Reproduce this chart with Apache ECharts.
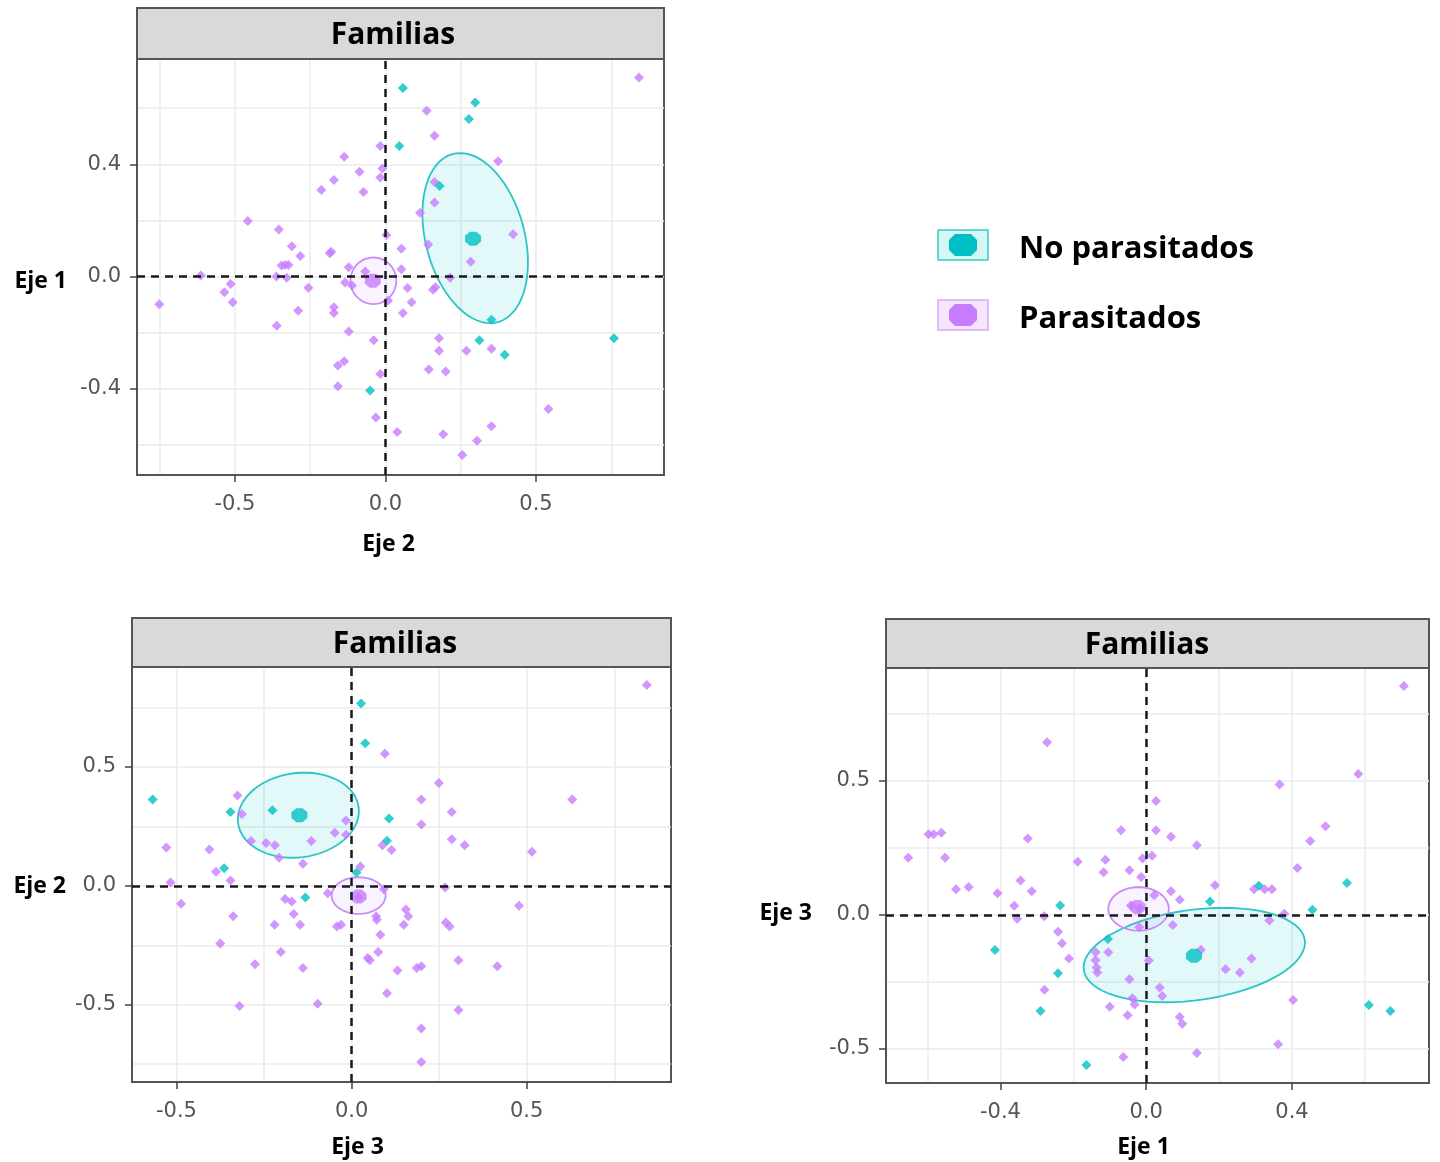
<!DOCTYPE html>
<html>
<head>
<meta charset="utf-8">
<script src="https://cdn.jsdelivr.net/npm/echarts@6/dist/echarts.min.js"></script>
<style>
  html, body { margin: 0; padding: 0; background: #fff; }
  #main { width: 1440px; height: 1162px; }
</style>
</head>
<body>
<div id="main"></div>
<script>
// colores de grupo
var tealColor = '#00BFC4';
var purpleColor = '#C77CFF';

// panel 1: Eje 2 (x) vs Eje 1 (y)
var p1NoPar = [[0.058,0.672],[0.298,0.620],[0.277,0.561],[0.046,0.465],[0.180,0.323],[0.352,-0.154],
  [0.312,-0.227],[0.396,-0.279],[0.759,-0.220],[-0.051,-0.406]];
var p1Par = [[0.842,0.709],[0.137,0.591],[0.163,0.502],[-0.017,0.465],[-0.137,0.427],[-0.010,0.385],
  [-0.086,0.373],[-0.017,0.353],[-0.171,0.344],[-0.213,0.308],[-0.073,0.301],[0.374,0.411],
  [0.163,0.337],[0.163,0.264],[0.115,0.227],[0.424,0.151],[0.142,0.114],[0.283,0.053],
  [-0.457,0.198],[-0.354,0.168],[-0.311,0.108],[-0.283,0.073],[-0.185,0.083],[-0.180,0.088],[0.003,0.148],
  [0.053,0.099],[-0.333,0.041],[-0.322,0.041],[-0.345,0.039],[-0.122,0.033],[-0.067,0.018],
  [0.053,0.026],[-0.613,0.004],[-0.362,0.0],[-0.328,-0.004],[0.215,-0.004],[-0.514,-0.027],
  [-0.535,-0.056],[-0.507,-0.092],[-0.751,-0.099],[-0.256,-0.040],[-0.134,-0.021],[-0.111,-0.032],
  [0.073,-0.041],[0.158,-0.047],[0.166,-0.038],[0.009,-0.085],[0.087,-0.092],[0.058,-0.130],
  [-0.290,-0.122],[-0.171,-0.109],[-0.171,-0.130],[-0.361,-0.175],[-0.122,-0.196],[-0.039,-0.227],
  [0.178,-0.220],[0.178,-0.264],[0.269,-0.264],[0.352,-0.257],[-0.158,-0.317],[-0.137,-0.302],
  [-0.017,-0.347],[0.144,-0.331],[0.200,-0.338],[-0.158,-0.391],[-0.032,-0.502],[0.039,-0.554],
  [0.192,-0.562],[0.541,-0.472],[0.352,-0.533],[0.304,-0.585],[0.255,-0.636]];
var p1Centros = [[0.291,0.135],[-0.042,-0.015]];
// elipses: centro x, centro y, vector A (x,y), vector B (x,y)
var p1ElipseNoPar = [0.298,0.137,-0.050,0.303,0.168,0];
var p1ElipsePar = [-0.040,-0.015,0,0.083,0.076,0];

// panel 2: Eje 3 (x) vs Eje 2 (y)
var p2NoPar = [[0.027,0.766],[0.039,0.599],[-0.568,0.363],[-0.346,0.310],[-0.226,0.318],[0.107,0.283],
  [0.101,0.189],[-0.364,0.074],[0.014,0.056],[-0.132,-0.049]];
var p2Par = [[0.843,0.844],[0.095,0.555],[0.249,0.432],[0.199,0.363],[0.630,0.363],[-0.326,0.380],
  [-0.313,0.302],[0.286,0.310],[-0.016,0.275],[0.199,0.258],[-0.048,0.223],[-0.016,0.215],
  [-0.115,0.188],[-0.287,0.188],[-0.244,0.180],[-0.219,0.171],[0.286,0.196],[0.323,0.171],
  [0.088,0.170],[0.114,0.151],[-0.529,0.161],[-0.406,0.153],[0.515,0.143],[-0.207,0.118],
  [-0.139,0.093],[0.025,0.081],[-0.387,0.059],[-0.346,0.022],[-0.517,0.014],
  [0.267,-0.007],[0.092,-0.014],[-0.068,-0.031],[0.020,-0.048],[-0.487,-0.076],[-0.190,-0.056],
  [-0.171,-0.066],[0.478,-0.084],[0.155,-0.100],[0.162,-0.128],[0.070,-0.128],[0.072,-0.143],
  [-0.338,-0.128],[-0.165,-0.119],[-0.220,-0.164],[-0.147,-0.164],[-0.042,-0.171],[-0.030,-0.164],
  [0.149,-0.164],[0.269,-0.154],[0.280,-0.171],[0.082,-0.206],[-0.375,-0.243],[-0.202,-0.278],
  [0.076,-0.278],[0.046,-0.304],[0.052,-0.313],[-0.276,-0.330],[-0.139,-0.346],[0.131,-0.356],
  [0.186,-0.346],[0.199,-0.338],[0.305,-0.313],[0.416,-0.338],[0.101,-0.452],[-0.320,-0.505],
  [-0.097,-0.496],[0.305,-0.522],[0.199,-0.600],[0.199,-0.741]];
var p2Centros = [[-0.149,0.297],[0.020,-0.045]];
var p2ElipseNoPar = [-0.152,0.297,0.017,0.179,0.172,0];
var p2ElipsePar = [0.020,-0.041,0,0.077,0.077,0];

// panel 3: Eje 1 (x) vs Eje 3 (y)
var p3NoPar = [[-0.236,0.035],[0.175,0.050],[0.456,0.019],[0.551,0.119],[-0.415,-0.131],[-0.242,-0.218],
  [-0.290,-0.359],[-0.164,-0.560],[0.611,-0.336],[0.670,-0.359],[-0.105,-0.090],[0.309,0.108]];
var p3Par = [[0.707,0.853],[-0.272,0.643],[0.582,0.525],[0.366,0.486],[0.027,0.424],[0.492,0.330],
  [0.450,0.275],[-0.069,0.315],[0.027,0.315],[0.068,0.291],[0.139,0.259],[-0.597,0.300],
  [-0.583,0.300],[-0.562,0.306],[-0.325,0.284],[-0.653,0.213],[-0.552,0.213],[-0.188,0.198],
  [-0.112,0.205],[-0.010,0.210],[0.016,0.220],[-0.117,0.159],[-0.046,0.166],[-0.014,0.141],
  [0.415,0.174],[-0.345,0.128],[-0.314,0.088],[-0.522,0.095],[-0.487,0.104],[-0.408,0.080],
  [0.189,0.110],[0.296,0.095],[0.325,0.095],[0.345,0.095],[0.068,0.088],[0.022,0.073],
  [0.092,0.056],[-0.362,0.034],[-0.042,0.035],[-0.019,0.025],[-0.354,-0.015],[-0.280,-0.005],
  [0.379,0.004],[0.338,-0.021],[0.073,-0.038],[-0.019,-0.046],[-0.242,-0.063],[-0.231,-0.106],
  [-0.212,-0.163],[-0.104,-0.140],[-0.139,-0.140],[-0.139,-0.169],[-0.136,-0.196],[-0.134,-0.215],
  [0.007,-0.170],[0.150,-0.130],[0.289,-0.163],[0.218,-0.203],[0.257,-0.215],[-0.046,-0.240],
  [0.037,-0.271],[0.044,-0.303],[-0.038,-0.311],[-0.032,-0.334],[-0.279,-0.279],[-0.100,-0.343],
  [-0.051,-0.374],[0.403,-0.318],[0.092,-0.381],[0.099,-0.406],[0.362,-0.483],[0.139,-0.515],
  [-0.063,-0.530]];
var p3Centros = [[0.131,-0.153],[-0.024,0.029]];
var p3ElipseNoPar = [0.132,-0.150,0.080,0.176,0.293,0];
var p3ElipsePar = [-0.021,0.022,0,0.081,0.083,0];

// ejes
var p1XTicks = [-0.5, 0, 0.5], p1YTicks = [-0.4, 0, 0.4];
var p2XTicks = [-0.5, 0, 0.5], p2YTicks = [-0.5, 0, 0.5];
var p3XTicks = [-0.4, 0, 0.4], p3YTicks = [-0.5, 0, 0.5];
var nombresEjes = [['Eje 2', 'Eje 1'], ['Eje 3', 'Eje 2'], ['Eje 1', 'Eje 3']];
var titulo = 'Familias';
var leyenda = ['No parasitados', 'Parasitados'];

var grids = [
  { left: 137, top: 59, width: 527, height: 416 },
  { left: 132, top: 667, width: 539, height: 415 },
  { left: 886, top: 668, width: 543, height: 415 }
];
var tiras = [
  { x: 137, y: 8, w: 527, h: 51, tx: 393 },
  { x: 132, y: 618, w: 539, h: 49, tx: 395 },
  { x: 886, y: 619, w: 543, h: 49, tx: 1147 }
];
// posicion de los nombres de eje vertical (borde derecho, centro y)
var nombresY = [[67, 281], [66, 886], [812, 913]];

var myChart = echarts.init(document.getElementById('main'));

var gridLine = { color: '#ebebeb', width: 1.5 };

function makeAxis(gi, isX, min, max, ticks, name, gap, shift) {
  var step = ticks[1] - ticks[0];
  return {
    type: 'value', gridIndex: gi, min: min, max: max,
    minInterval: step, maxInterval: step,
    name: name, nameLocation: 'middle', nameGap: gap,
    nameTextStyle: { fontFamily: 'Open Sans', fontWeight: 'bold', fontSize: 23, color: '#000',
                     padding: [0, 2 * shift, 0, 0] },
    axisLine: { show: true, onZero: false, lineStyle: { color: '#555', width: 2 } },
    axisTick: { show: true, length: 7, customValues: ticks, lineStyle: { color: '#444', width: 1.5 } },
    axisLabel: {
      customValues: ticks, margin: isX ? 19 : 16,
      fontFamily: 'DejaVu Sans', fontSize: 21, color: '#555',
      formatter: function (v) { return v.toFixed(1); }
    },
    splitLine: { show: true, lineStyle: gridLine },
    minorTick: { show: false, splitNumber: 2 },
    minorSplitLine: { show: true, lineStyle: gridLine }
  };
}

var xAxes = [
  makeAxis(0, true, -0.825, 0.925, p1XTicks, nombresEjes[0][0], 58, 12),
  makeAxis(1, true, -0.627, 0.912, p2XTicks, nombresEjes[1][0], 54, 44),
  makeAxis(2, true, -0.714, 0.776, p3XTicks, nombresEjes[2][0], 53, 14)
];
var yAxes = [
  makeAxis(0, false, -0.707, 0.775, p1YTicks, '', 0, 0),
  makeAxis(1, false, -0.825, 0.920, p2YTicks, '', 0, 0),
  makeAxis(2, false, -0.627, 0.920, p3YTicks, '', 0, 0)
];

function elipseSerie(gi, params, color, fill) {
  return {
    type: 'custom', xAxisIndex: gi, yAxisIndex: gi, silent: true, z: 1,
    data: [params],
    renderItem: function (p, api) {
      var e = params, pts = [];
      for (var i = 0; i < 72; i++) {
        var t = i / 72 * Math.PI * 2;
        pts.push(api.coord([e[0] + e[2] * Math.cos(t) + e[4] * Math.sin(t),
                            e[1] + e[3] * Math.cos(t) + e[5] * Math.sin(t)]));
      }
      return { type: 'polygon', shape: { points: pts },
               style: { fill: fill, stroke: color, lineWidth: 1.8 } };
    }
  };
}

function puntos(gi, name, data, color) {
  return { type: 'scatter', name: name, xAxisIndex: gi, yAxisIndex: gi, z: 3,
           symbol: 'diamond', symbolSize: 10, itemStyle: { color: color }, data: data };
}

var octagono = 'path://M3,0 L7,0 L10,3 L10,7 L7,10 L3,10 L0,7 L0,3 Z';
function centros(gi, data) {
  return { type: 'scatter', xAxisIndex: gi, yAxisIndex: gi, z: 4, silent: true,
           symbol: octagono, symbolSize: [16, 14],
           itemStyle: { color: function (p) { return p.dataIndex === 0 ? tealColor : purpleColor; } },
           data: data };
}

function ceros(gi) {
  return { type: 'scatter', xAxisIndex: gi, yAxisIndex: gi, data: [], z: 5,
    markLine: { silent: true, symbol: 'none', label: { show: false },
      lineStyle: { type: [8, 6], color: '#1a1a1a', width: 2.5 },
      data: [{ xAxis: 0 }, { yAxis: 0 }] } };
}

var series = [];
[[p1NoPar, p1Par, p1Centros, p1ElipseNoPar, p1ElipsePar],
 [p2NoPar, p2Par, p2Centros, p2ElipseNoPar, p2ElipsePar],
 [p3NoPar, p3Par, p3Centros, p3ElipseNoPar, p3ElipsePar]].forEach(function (d, gi) {
  series.push(elipseSerie(gi, d[3], '#2cc4c6', 'rgba(0,191,196,0.11)'));
  series.push(elipseSerie(gi, d[4], '#c98cf5', 'rgba(199,124,255,0.10)'));
  series.push(puntos(gi, leyenda[1], d[1], purpleColor));
  series.push(puntos(gi, leyenda[0], d[0], tealColor));
  series.push(centros(gi, d[2]));
  series.push(ceros(gi));
});

// tiras de titulo, nombres de eje vertical y leyenda
var graphics = [];
tiras.forEach(function (t) {
  graphics.push({ type: 'rect', shape: { x: t.x, y: t.y, width: t.w, height: t.h },
    style: { fill: '#d9d9d9', stroke: '#555', lineWidth: 2 }, z: 10 });
  graphics.push({ type: 'text', x: t.tx, y: t.y + t.h / 2 + 2, z: 11,
    style: { text: titulo, fontFamily: 'Open Sans', fontWeight: 'bold', fontSize: 30,
             fill: '#000', align: 'center', verticalAlign: 'middle' } });
});
nombresY.forEach(function (p, i) {
  graphics.push({ type: 'text', x: p[0], y: p[1],
    style: { text: nombresEjes[i][1], fontFamily: 'Open Sans', fontWeight: 'bold', fontSize: 23,
             fill: '#000', align: 'right', verticalAlign: 'middle' } });
});
[[tealColor, '#d6f5f5', '#33cccc', 230], [purpleColor, '#f5e6fd', '#d9a8f8', 300]].forEach(function (k, i) {
  graphics.push({ type: 'rect', shape: { x: 938, y: k[3], width: 50, height: 30 },
    style: { fill: k[1], stroke: k[2], lineWidth: 1.5 } });
  graphics.push({ type: 'polygon', shape: { points: [[955, k[3] + 4], [971, k[3] + 4], [977, k[3] + 10],
      [977, k[3] + 20], [971, k[3] + 26], [955, k[3] + 26], [949, k[3] + 20], [949, k[3] + 10]] },
    style: { fill: k[0] } });
  graphics.push({ type: 'text', x: 1019, y: k[3] + 19,
    style: { text: leyenda[i], fontFamily: 'Open Sans', fontWeight: 'bold', fontSize: 31,
             fill: '#000', verticalAlign: 'middle' } });
});

myChart.setOption({
  backgroundColor: '#fff',
  animation: false,
  grid: grids.map(function (g) {
    return { left: g.left, top: g.top, width: g.width, height: g.height,
             show: true, borderColor: '#555', borderWidth: 2, containLabel: false };
  }),
  xAxis: xAxes,
  yAxis: yAxes,
  series: series,
  graphic: graphics
});
</script>
</body>
</html>
